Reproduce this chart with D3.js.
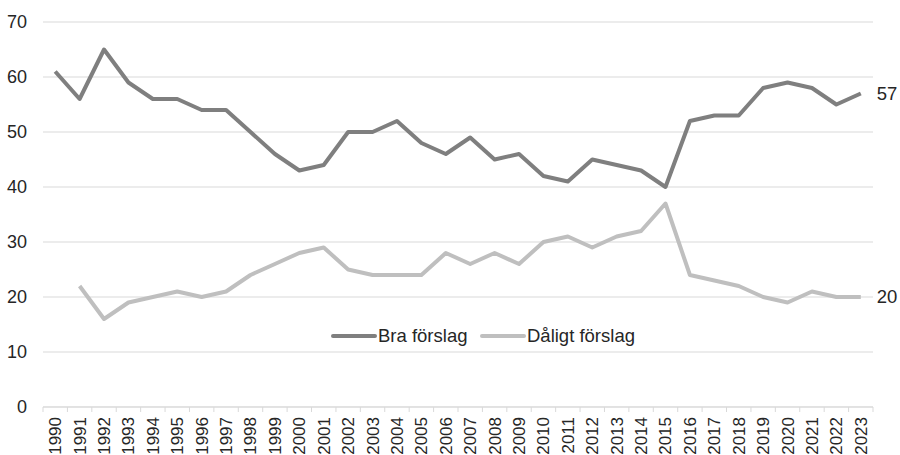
<!DOCTYPE html>
<html>
<head>
<meta charset="utf-8">
<script src="https://cdn.jsdelivr.net/npm/d3@7"></script>
<style>
  body { margin: 0; background: #fff; }
  text { font-family: "Liberation Sans", Arial, sans-serif; fill: #262626; }
</style>
</head>
<body>
<script>
var width = 900, height = 455;

// years on the x axis
var years = d3.range(1990, 2024).map(String);

// share answering "good proposal" / "bad proposal"
var bra = [61, 56, 65, 59, 56, 56, 54, 54, 50, 46, 43, 44, 50, 50, 52, 48, 46, 49, 45, 46,
           42, 41, 45, 44, 43, 40, 52, 53, 53, 58, 59, 58, 55, 57];
var daligt = [null, 22, 16, 19, 20, 21, 20, 21, 24, 26, 28, 29, 25, 24, 24, 24, 28, 26, 28, 26,
              30, 31, 29, 31, 32, 37, 24, 23, 22, 20, 19, 21, 20, 20];

var yTicks = [0, 10, 20, 30, 40, 50, 60, 70];

var series = [
  {name: 'Bra förslag', values: bra, color: '#7f7f7f'},
  {name: 'Dåligt förslag', values: daligt, color: '#bfbfbf'}
];

var margin = {top: 22, right: 27, bottom: 48, left: 43};

var svg = d3.select('body').append('svg').attr('width', width).attr('height', height);

var x = d3.scaleBand().domain(years).range([margin.left, width - margin.right]);
var y = d3.scaleLinear().domain([0, 70]).range([height - margin.bottom, margin.top]);

// gridlines
svg.append('g')
  .selectAll('line')
  .data(yTicks)
  .join('line')
  .attr('x1', margin.left)
  .attr('x2', width - margin.right)
  .attr('y1', d => y(d))
  .attr('y2', d => y(d))
  .attr('stroke', '#d9d9d9')
  .attr('stroke-width', 1);

// y labels
svg.append('g')
  .selectAll('text')
  .data(yTicks)
  .join('text')
  .attr('x', 27)
  .attr('y', d => y(d))
  .attr('dy', '0.35em')
  .attr('text-anchor', 'end')
  .attr('font-size', 18)
  .text(d => d);

// x axis with ticks between the categories
var xAxis = svg.append('g')
  .attr('transform', 'translate(0,' + y(0) + ')');
xAxis.append('line')
  .attr('x1', margin.left).attr('x2', width - margin.right)
  .attr('stroke', '#d9d9d9');
xAxis.selectAll('.tk')
  .data(years.concat(['end']))
  .join('line')
  .attr('class', 'tk')
  .attr('x1', (d, i) => margin.left + i * x.bandwidth())
  .attr('x2', (d, i) => margin.left + i * x.bandwidth())
  .attr('y1', 0).attr('y2', 5)
  .attr('stroke', '#d9d9d9');
xAxis.selectAll('text')
  .data(years)
  .join('text')
  .attr('transform', d => 'translate(' + (x(d) + x.bandwidth() / 2) + ',10) rotate(-90)')
  .attr('text-anchor', 'end')
  .attr('dy', '0.35em')
  .attr('font-size', 17)
  .text(d => d);

// lines
var line = d3.line()
  .defined(d => d.v != null)
  .x(d => x(d.year) + x.bandwidth() / 2)
  .y(d => y(d.v));

series.forEach(function(s) {
  var pts = years.map((yr, i) => ({year: yr, v: s.values[i]}));
  svg.append('path')
    .datum(pts)
    .attr('fill', 'none')
    .attr('stroke', s.color)
    .attr('stroke-width', 4)
    .attr('stroke-linejoin', 'round')
    .attr('d', line);

  // label the last value
  var last = s.values[s.values.length - 1];
  svg.append('text')
    .attr('x', x(years[years.length - 1]) + x.bandwidth() / 2 + 16)
    .attr('y', y(last))
    .attr('dy', '0.35em')
    .attr('font-size', 18.5)
    .text(last);
});

// legend
var legendX = [333, 482];
var lg = svg.append('g');
series.forEach(function(s, i) {
  lg.append('line')
    .attr('x1', legendX[i]).attr('x2', legendX[i] + 42)
    .attr('y1', 336).attr('y2', 336)
    .attr('stroke', s.color)
    .attr('stroke-width', 4)
    .attr('stroke-linecap', 'round');
  lg.append('text')
    .attr('x', legendX[i] + 45)
    .attr('y', 336)
    .attr('dy', '0.35em')
    .attr('font-size', 18.5)
    .text(s.name);
});
</script>
</body>
</html>
